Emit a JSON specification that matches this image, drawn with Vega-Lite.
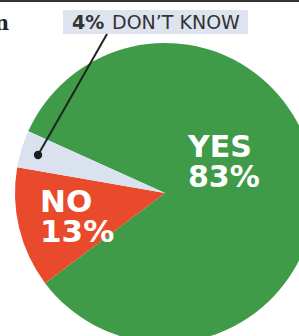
{
  "$schema": "https://vega.github.io/schema/vega-lite/v6.json",
  "width": 299,
  "height": 336,
  "padding": 0,
  "autosize": {"type": "none"},
  "background": "white",
  "config": {"view": {"stroke": null}},
  "data": {"values": [
    {"answer": "YES", "share": 0.83, "rank": 1},
    {"answer": "NO", "share": 0.13, "rank": 2},
    {"answer": "DON’T KNOW", "share": 0.04, "rank": 3}
  ]},
  "layer": [
    {
      "mark": {"type": "arc", "outerRadius": 150},
      "encoding": {
        "theta": {"field": "share", "type": "quantitative", "stack": true, "scale": {"range": [5.136, 11.419]}},
        "order": {"field": "rank", "type": "quantitative"},
        "color": {"field": "answer", "type": "nominal", "legend": null,
          "scale": {"domain": ["YES", "NO", "DON’T KNOW"], "range": ["#3f9b48", "#e84a2b", "#d9e2ee"]}},
        "x": {"datum": 165, "type": "quantitative", "axis": null, "scale": {"domain": [0, 299], "nice": false, "zero": false}},
        "y": {"datum": 193, "type": "quantitative", "axis": null, "scale": {"domain": [0, 336], "nice": false, "zero": false, "reverse": true}}
      }
    },
    {
      "transform": [{"filter": "datum.answer === 'YES'"}, {"calculate": "[datum.answer, format(datum.share, '.0%')]", "as": "label"}],
      "mark": {"type": "text", "align": "left", "baseline": "alphabetic", "font": "DejaVu Sans", "fontWeight": "bold", "fontSize": 30, "lineHeight": 30, "fill": "white"},
      "encoding": {"text": {"field": "label"}, "x": {"datum": 188}, "y": {"datum": 157}}
    },
    {
      "transform": [{"filter": "datum.answer === 'NO'"}, {"calculate": "[datum.answer, format(datum.share, '.0%')]", "as": "label"}],
      "mark": {"type": "text", "align": "left", "baseline": "alphabetic", "font": "DejaVu Sans", "fontWeight": "bold", "fontSize": 31, "lineHeight": 30, "fill": "white"},
      "encoding": {"text": {"field": "label"}, "x": {"datum": 40}, "y": {"datum": 212}}
    },
    {
      "transform": [{"filter": "datum.rank === 3"}],
      "mark": {"type": "rect", "fill": "#dde4f0"},
      "encoding": {"x": {"datum": 63}, "x2": {"datum": 248}, "y": {"datum": 10}, "y2": {"datum": 34}}
    },
    {
      "transform": [{"filter": "datum.rank === 3"}],
      "mark": {"type": "rule", "stroke": "#222222", "strokeWidth": 2},
      "encoding": {"x": {"datum": 107}, "x2": {"datum": 38}, "y": {"datum": 34}, "y2": {"datum": 155}}
    },
    {
      "transform": [{"filter": "datum.rank === 3"}],
      "mark": {"type": "point", "filled": true, "fill": "#1e1e1e", "opacity": 1, "size": 70},
      "encoding": {"x": {"datum": 38}, "y": {"datum": 155}}
    },
    {
      "transform": [{"filter": "datum.rank === 3"}],
      "mark": {"type": "text", "align": "left", "baseline": "alphabetic", "font": "DejaVu Sans", "fontWeight": "bold", "fontSize": 19, "fill": "#333333"},
      "encoding": {"text": {"field": "share", "format": ".0%"}, "x": {"datum": 72}, "y": {"datum": 29}}
    },
    {
      "transform": [{"filter": "datum.rank === 3"}],
      "mark": {"type": "text", "align": "left", "baseline": "alphabetic", "font": "DejaVu Sans", "fontSize": 19, "fill": "#333333"},
      "encoding": {"text": {"field": "answer"}, "x": {"datum": 112}, "y": {"datum": 29}}
    },
    {
      "data": {"values": [{"word": "n"}]},
      "mark": {"type": "text", "align": "right", "baseline": "alphabetic", "font": "DejaVu Serif", "fontWeight": "bold", "fontSize": 20, "fill": "#222222"},
      "encoding": {"text": {"field": "word"}, "x": {"datum": 9}, "y": {"datum": 30}}
    },
    {
      "data": {"values": [{"edge": "top"}]},
      "mark": {"type": "rule", "stroke": "#333333", "strokeWidth": 2},
      "encoding": {"x": {"datum": 0}, "x2": {"datum": 299}, "y": {"datum": 1}}
    }
  ]
}
